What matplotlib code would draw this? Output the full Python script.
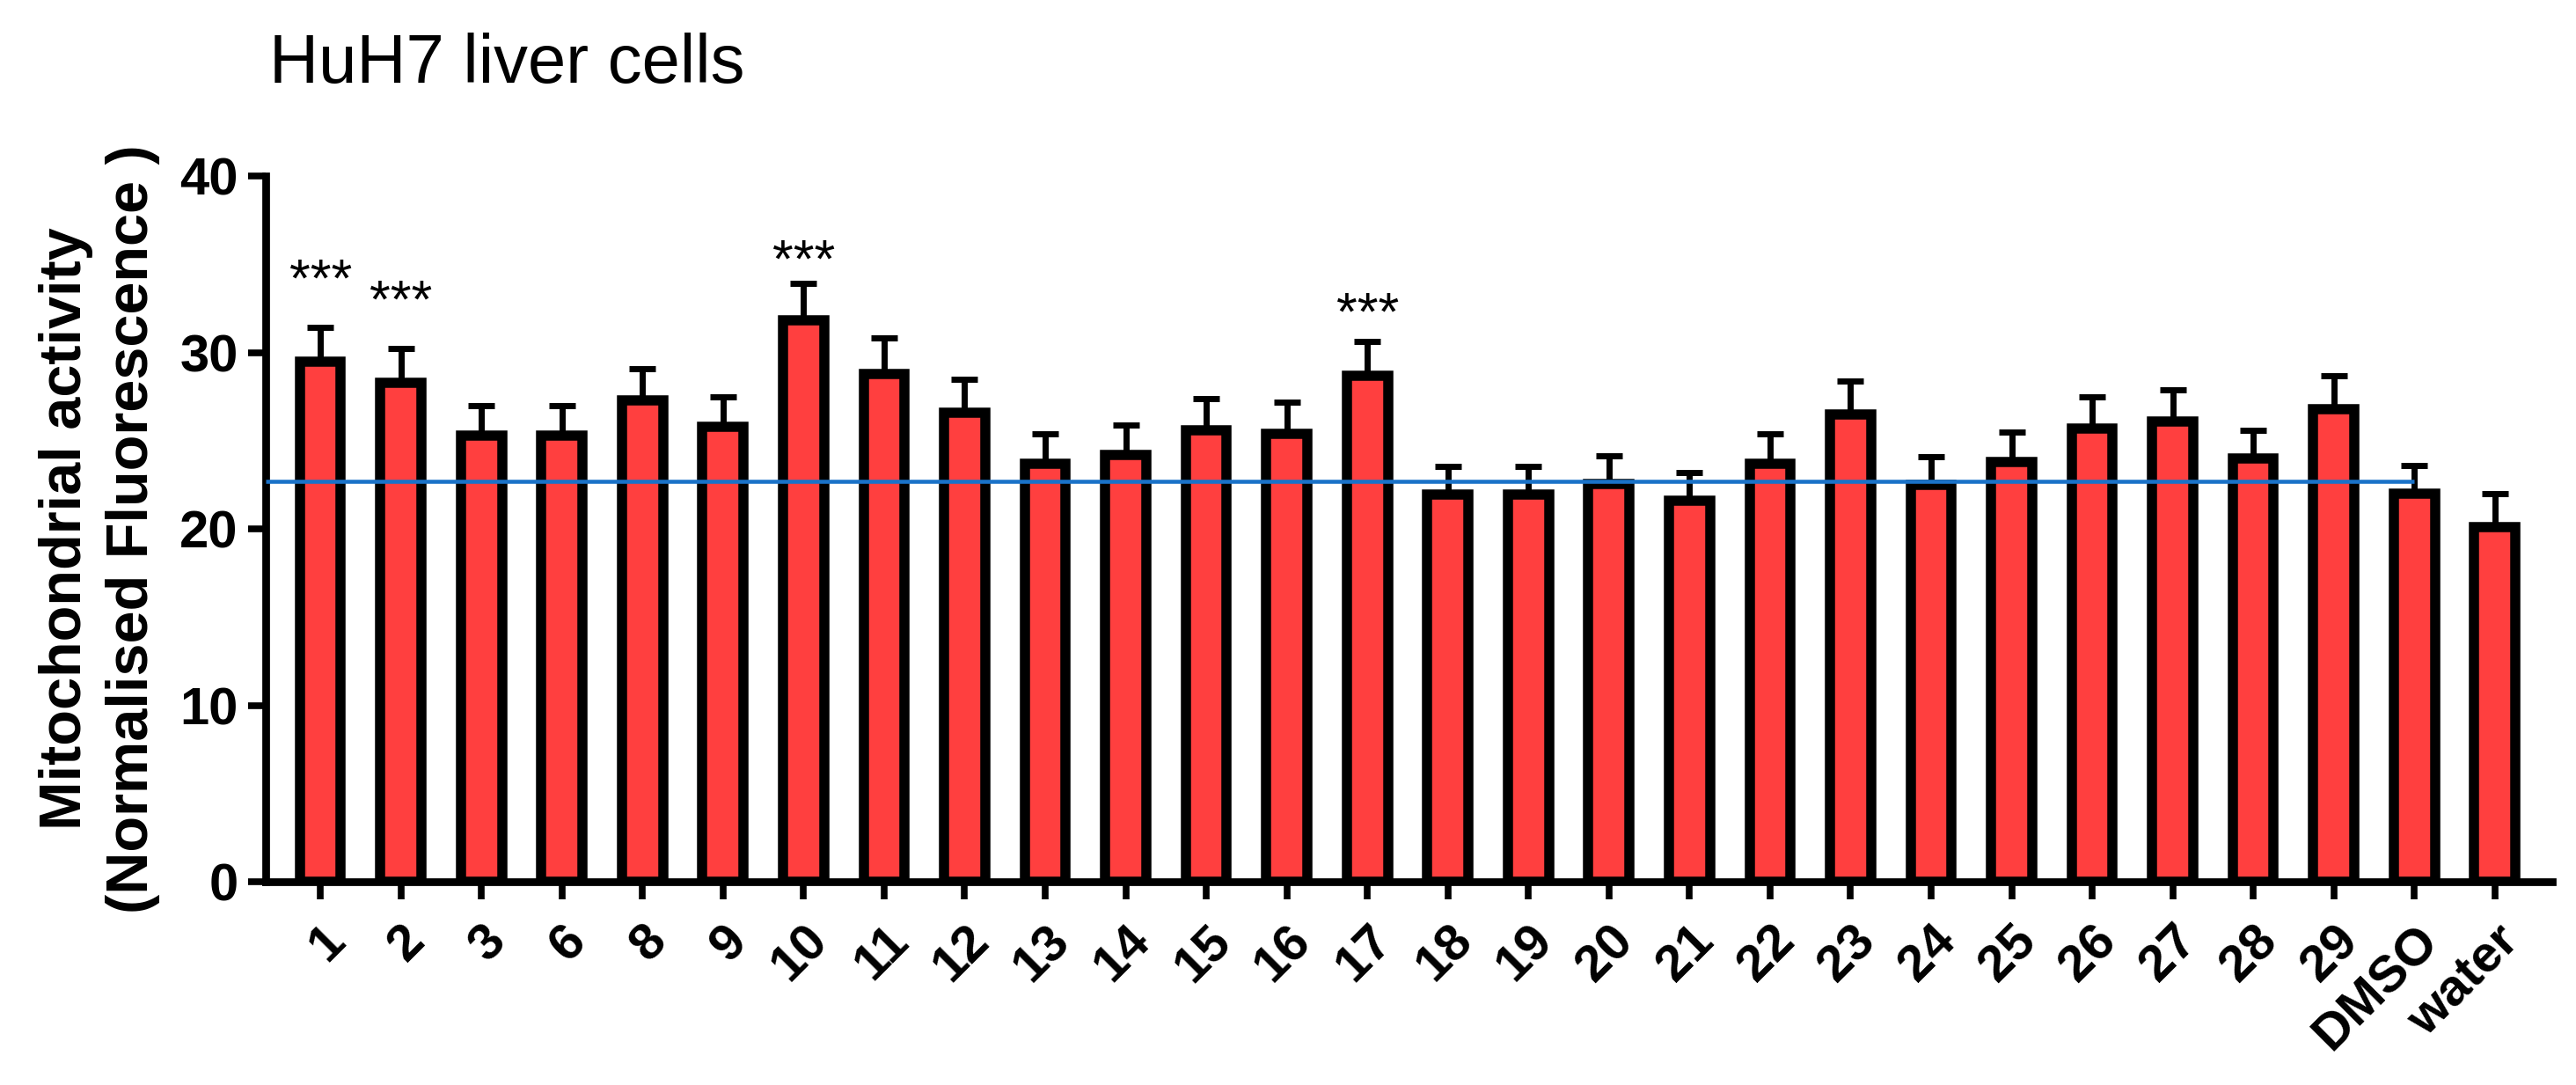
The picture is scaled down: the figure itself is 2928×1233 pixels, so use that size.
import matplotlib
matplotlib.use("Agg")
import matplotlib.pyplot as plt
import numpy as np

# Donnees (HuH7)
categories = ["1", "2", "3", "6", "8", "9", "10", "11", "12", "13", "14", "15",
              "16", "17", "18", "19", "20", "21", "22", "23", "24", "25", "26",
              "27", "28", "29", "DMSO", "water"]
moyennes = [29.5, 28.3, 25.3, 25.3, 27.3, 25.8, 31.8, 28.8, 26.6, 23.7, 24.2, 25.6,
            25.4, 28.7, 21.95, 21.95, 22.55, 21.6, 23.7, 26.5, 22.5, 23.8, 25.7,
            26.1, 24.0, 26.8, 22.0, 20.1]
erreurs = [1.9, 1.9, 1.7, 1.7, 1.8, 1.7, 2.1, 2.0, 1.9, 1.7, 1.7, 1.8,
           1.8, 1.9, 1.6, 1.6, 1.6, 1.6, 1.7, 1.9, 1.6, 1.7, 1.8,
           1.8, 1.6, 1.9, 1.6, 1.9]
# niveaux (ligne de base) des etoiles de significativite
etoiles_cat = ["1", "2", "10", "17"]
etoiles_y = [33.2, 32.0, 34.3, 31.3]
ref_dmso = 22.7
yticks = [0, 10, 20, 30, 40]

plt.rcParams['font.family'] = ['Liberation Sans', 'DejaVu Sans']

fig = plt.figure(figsize=(29.28, 12.33), dpi=100)
ax = fig.add_axes([0.1031, 0.1873, 0.8876, 0.6505])

x = np.arange(len(categories))
ax.errorbar(x, moyennes, yerr=[np.zeros(len(erreurs)), erreurs], fmt='none',
            ecolor='black', elinewidth=5, capsize=11, capthick=5, zorder=1)
ax.bar(x, moyennes, width=0.51, color='#ff3f3f', edgecolor='black',
       linewidth=8.3, zorder=2)

# ligne de reference (niveau DMSO)
i_dmso = categories.index("DMSO")
ax.set_xlim(-0.68, len(categories) - 1 + 0.71)
ax.hlines(ref_dmso, ax.get_xlim()[0], x[i_dmso], color='#1a72c8', linewidth=3.3, zorder=3)

for cat, y in zip(etoiles_cat, etoiles_y):
    ax.text(x[categories.index(cat)], y, "***", ha='center', va='baseline', fontsize=44)

ax.set_ylim(0, 40)
ax.set_yticks(yticks)
ax.set_xticks(x)
ax.set_xticklabels(categories, rotation=45, ha='right', va='top', rotation_mode='anchor',
                   fontsize=42, fontweight='bold')
ax.tick_params(axis='y', labelsize=43, width=5.5, length=14.5, pad=8)
ax.tick_params(axis='x', width=5.5, length=14.5, pad=14)
for lab in ax.get_yticklabels():
    lab.set_fontweight('bold')

for s in ['top', 'right']:
    ax.spines[s].set_visible(False)
for s in ['left', 'bottom']:
    ax.spines[s].set_linewidth(6.3)

ax.set_ylabel("Mitochondrial activity\n(Normalised Fluorescence )", fontsize=48,
              fontweight='bold', linespacing=1.3, labelpad=16)

fig.text(0.1045, 0.9238, "HuH7 liver cells", fontsize=56, va='baseline', ha='left')

fig.savefig("out.png", dpi=100)
